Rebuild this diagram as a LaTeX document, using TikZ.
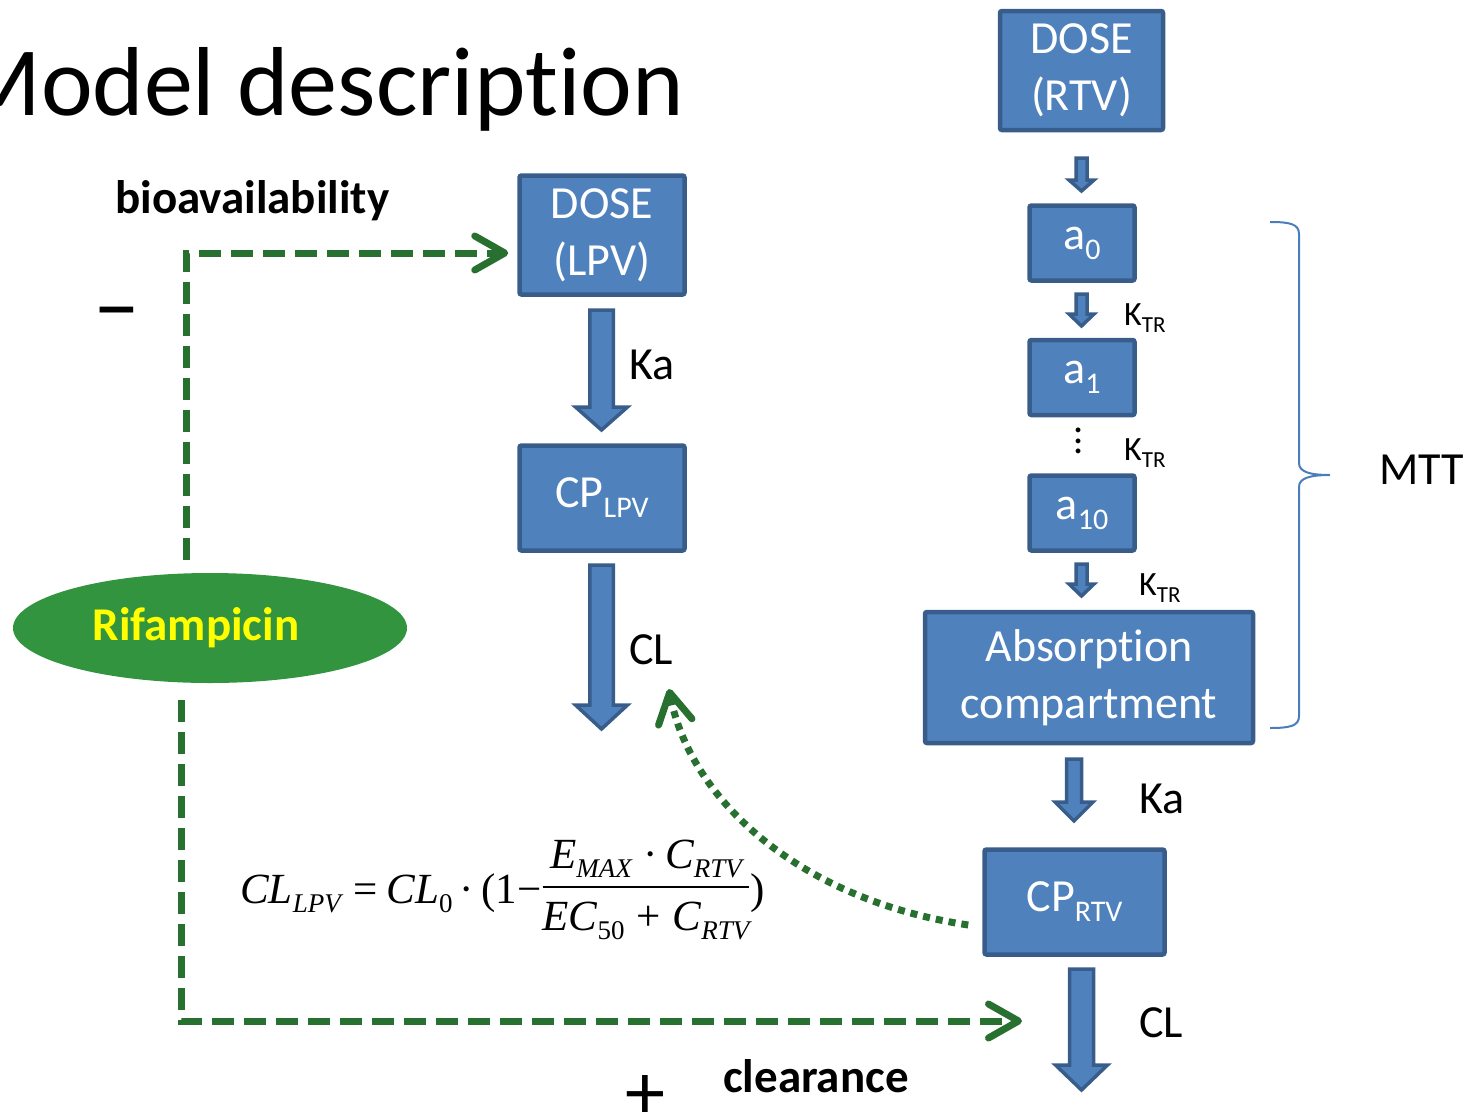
\documentclass[tikz,border=0pt]{standalone}
\usepackage{amsmath}
\usepackage{fontspec}
\setmainfont{Carlito}[Ligatures=NoCommon]
\newfontfamily\tnr{Liberation Serif}
\usetikzlibrary{arrows.meta,calc,shapes.geometric}
\definecolor{boxfill}{RGB}{79,129,189}
\definecolor{boxline}{RGB}{56,93,138}
\definecolor{rifgreen}{RGB}{50,148,62}
\definecolor{dgreen}{RGB}{40,112,48}
\definecolor{bracec}{RGB}{74,126,187}
\newcommand\fs[1]{\fontsize{#1}{#1}\selectfont}
\newcommand\subs[1]{\raisebox{-0.22em}{\fs{30}#1}}
\newcommand\ksub[1]{\raisebox{-0.22em}{\fs{23}#1}}
\newcommand\eqsub[1]{\raisebox{-0.22em}{\fs{27}#1}}
\newcommand\barr[6]{\path[barrow] (#1-#5,#2) -- (#1+#5,#2) -- (#1+#5,#3) -- (#1+#6,#3) -- (#1,#4) -- (#1-#6,#3) -- (#1-#5,#3) -- cycle;}
\begin{document}
\begin{tikzpicture}[x=1pt,y=-1pt,
  comp/.style={draw=boxline, fill=boxfill, line width=4.5pt, rounded corners=2pt, text=white, font=\fontsize{46}{57}\selectfont, align=center, inner sep=0pt},
  barrow/.style={draw=boxline, fill=boxfill, line width=3.5pt, line join=miter},
  lab/.style={font=\fs{46}, inner sep=0pt},
  ktr/.style={font=\fs{34}, inner sep=0pt, anchor=base west},
  bold/.style={font=\bfseries\fs{47}, inner sep=0pt, anchor=base west},
  greenline/.style={draw=dgreen, line width=7pt, -{Straight Barb[length=30pt,width=34pt,round]}},
  gdash/.style={greenline, dash pattern=on 22pt off 10pt},
  gdot/.style={greenline, dash pattern=on 7pt off 6pt},
  bracestyle/.style={draw=bracec, line width=2pt}
]
\useasboundingbox (0,0) rectangle (1475,1111);

% title
\node[font=\fs{98}, inner sep=0pt, anchor=base east] (title) at (684,115) {Model description};

% LPV chain
\node[comp, minimum width=165, minimum height=119] (dl) at (602,235) {DOSE\\(LPV)};
\node[comp, minimum width=165, minimum height=105] (cpl) at (602,498) {CP\subs{LPV}};
\barr{601.5}{310}{407}{430}{11.75}{26}
\barr{601.5}{565}{705}{729}{11.75}{26}
\node[lab, anchor=west] (ka1) at (629,365) {Ka};
\node[lab, anchor=west] (cl1) at (629,650) {CL};

% RTV chain
\node[comp, minimum width=163, minimum height=119] (dr) at (1081.5,70.5) {DOSE\\(RTV)};
\node[comp, minimum width=105, minimum height=75] (a0) at (1082,243) {a\subs{0}};
\node[comp, minimum width=105, minimum height=75] (a1) at (1082,377.5) {a\subs{1}};
\node[comp, minimum width=105, minimum height=75] (a10) at (1082,513) {a\subs{10}};
\node[comp, minimum width=328, minimum height=131] (abs) at (1089,677.5) {Absorption\\compartment};
\node[comp, minimum width=180, minimum height=105] (cpr) at (1074.5,902) {CP\subs{RTV}};
\barr{1081.5}{158}{180}{191}{5.5}{12.5}
\barr{1081.5}{294}{314}{326}{5.5}{12.5}
\barr{1081.5}{564}{584}{596}{5.5}{12.5}
\barr{1074}{759}{802}{821}{7.5}{19}
\barr{1081.5}{969}{1065}{1090}{12}{26}
\node[font=\fontsize{40}{10.5}\selectfont, align=center, inner sep=0pt] (vd) at (1079,441) {.\\.\\.};
\node[ktr] (k1) at (1124,325) {K\ksub{TR}};
\node[ktr] (k2) at (1124,460) {K\ksub{TR}};
\node[ktr] (k3) at (1139,595) {K\ksub{TR}};
\node[lab, anchor=west] (ka2) at (1139,799) {Ka};
\node[lab, anchor=west] (cl2) at (1139,1023) {CL};

% brace
\draw[bracestyle] (1270,222) .. controls (1290,222) and (1299,224) .. (1299,234) -- (1299,463)
  .. controls (1299,472) and (1310,475) .. (1330,475)
  .. controls (1310,475) and (1299,478) .. (1299,487) -- (1299,716)
  .. controls (1299,726) and (1290,728) .. (1270,728);
\node[lab, anchor=west] (mtt) at (1379,470) {MTT};

% rifampicin
\node[ellipse, fill=rifgreen, minimum width=394, minimum height=110, inner sep=0pt, text={rgb,255:red,255;green,255;blue,0}, font=\bfseries\fs{47}] (rif) at (210,628) {Rifampicin\hspace*{28pt}};
\node[bold] (bio) at (115,213) {bioavailability};
\node[font=\fs{90}, inner sep=0pt, anchor=base] (minus) at (117,338) {−};
\node[bold] (clr) at (723,1092) {clearance};
\node[font=\fs{80}, inner sep=0pt, anchor=base] (plus) at (645,1119) {+};

\coordinate (b0) at (186,560);
\coordinate (c0) at (181,700);
\coordinate (c1) at (1022,1021);
\coordinate (clt) at (669,689);
\draw[gdash, shorten >=9pt] (b0) |- ([yshift=-18pt]dl.west);
\draw[gdash] (c0) |- (c1);
\draw[gdot] ([xshift=-14pt,yshift=-23pt]cpr.west) .. controls (800,900) and (690,800) .. (clt);

% equation
\node[inner sep=0pt, anchor=base west] (eq) at (240,903) {\tnr\fs{43}\itshape CL\eqsub{LPV}\hspace{0.3em}\upshape=\hspace{0.2em}\itshape CL\eqsub{\upshape 0}\upshape\,·\,(1−\raisebox{10pt}{$\genfrac{}{}{1.6pt}{0}{\mbox{\rule[-13pt]{0pt}{0pt}\itshape E\eqsub{MAX}\upshape\;·\,\itshape C\eqsub{RTV}}}{\mbox{\rule{0pt}{38pt}\itshape EC\eqsub{\upshape 50}\upshape\;+\;\itshape C\eqsub{RTV}}}$})};
\end{tikzpicture}
\end{document}
